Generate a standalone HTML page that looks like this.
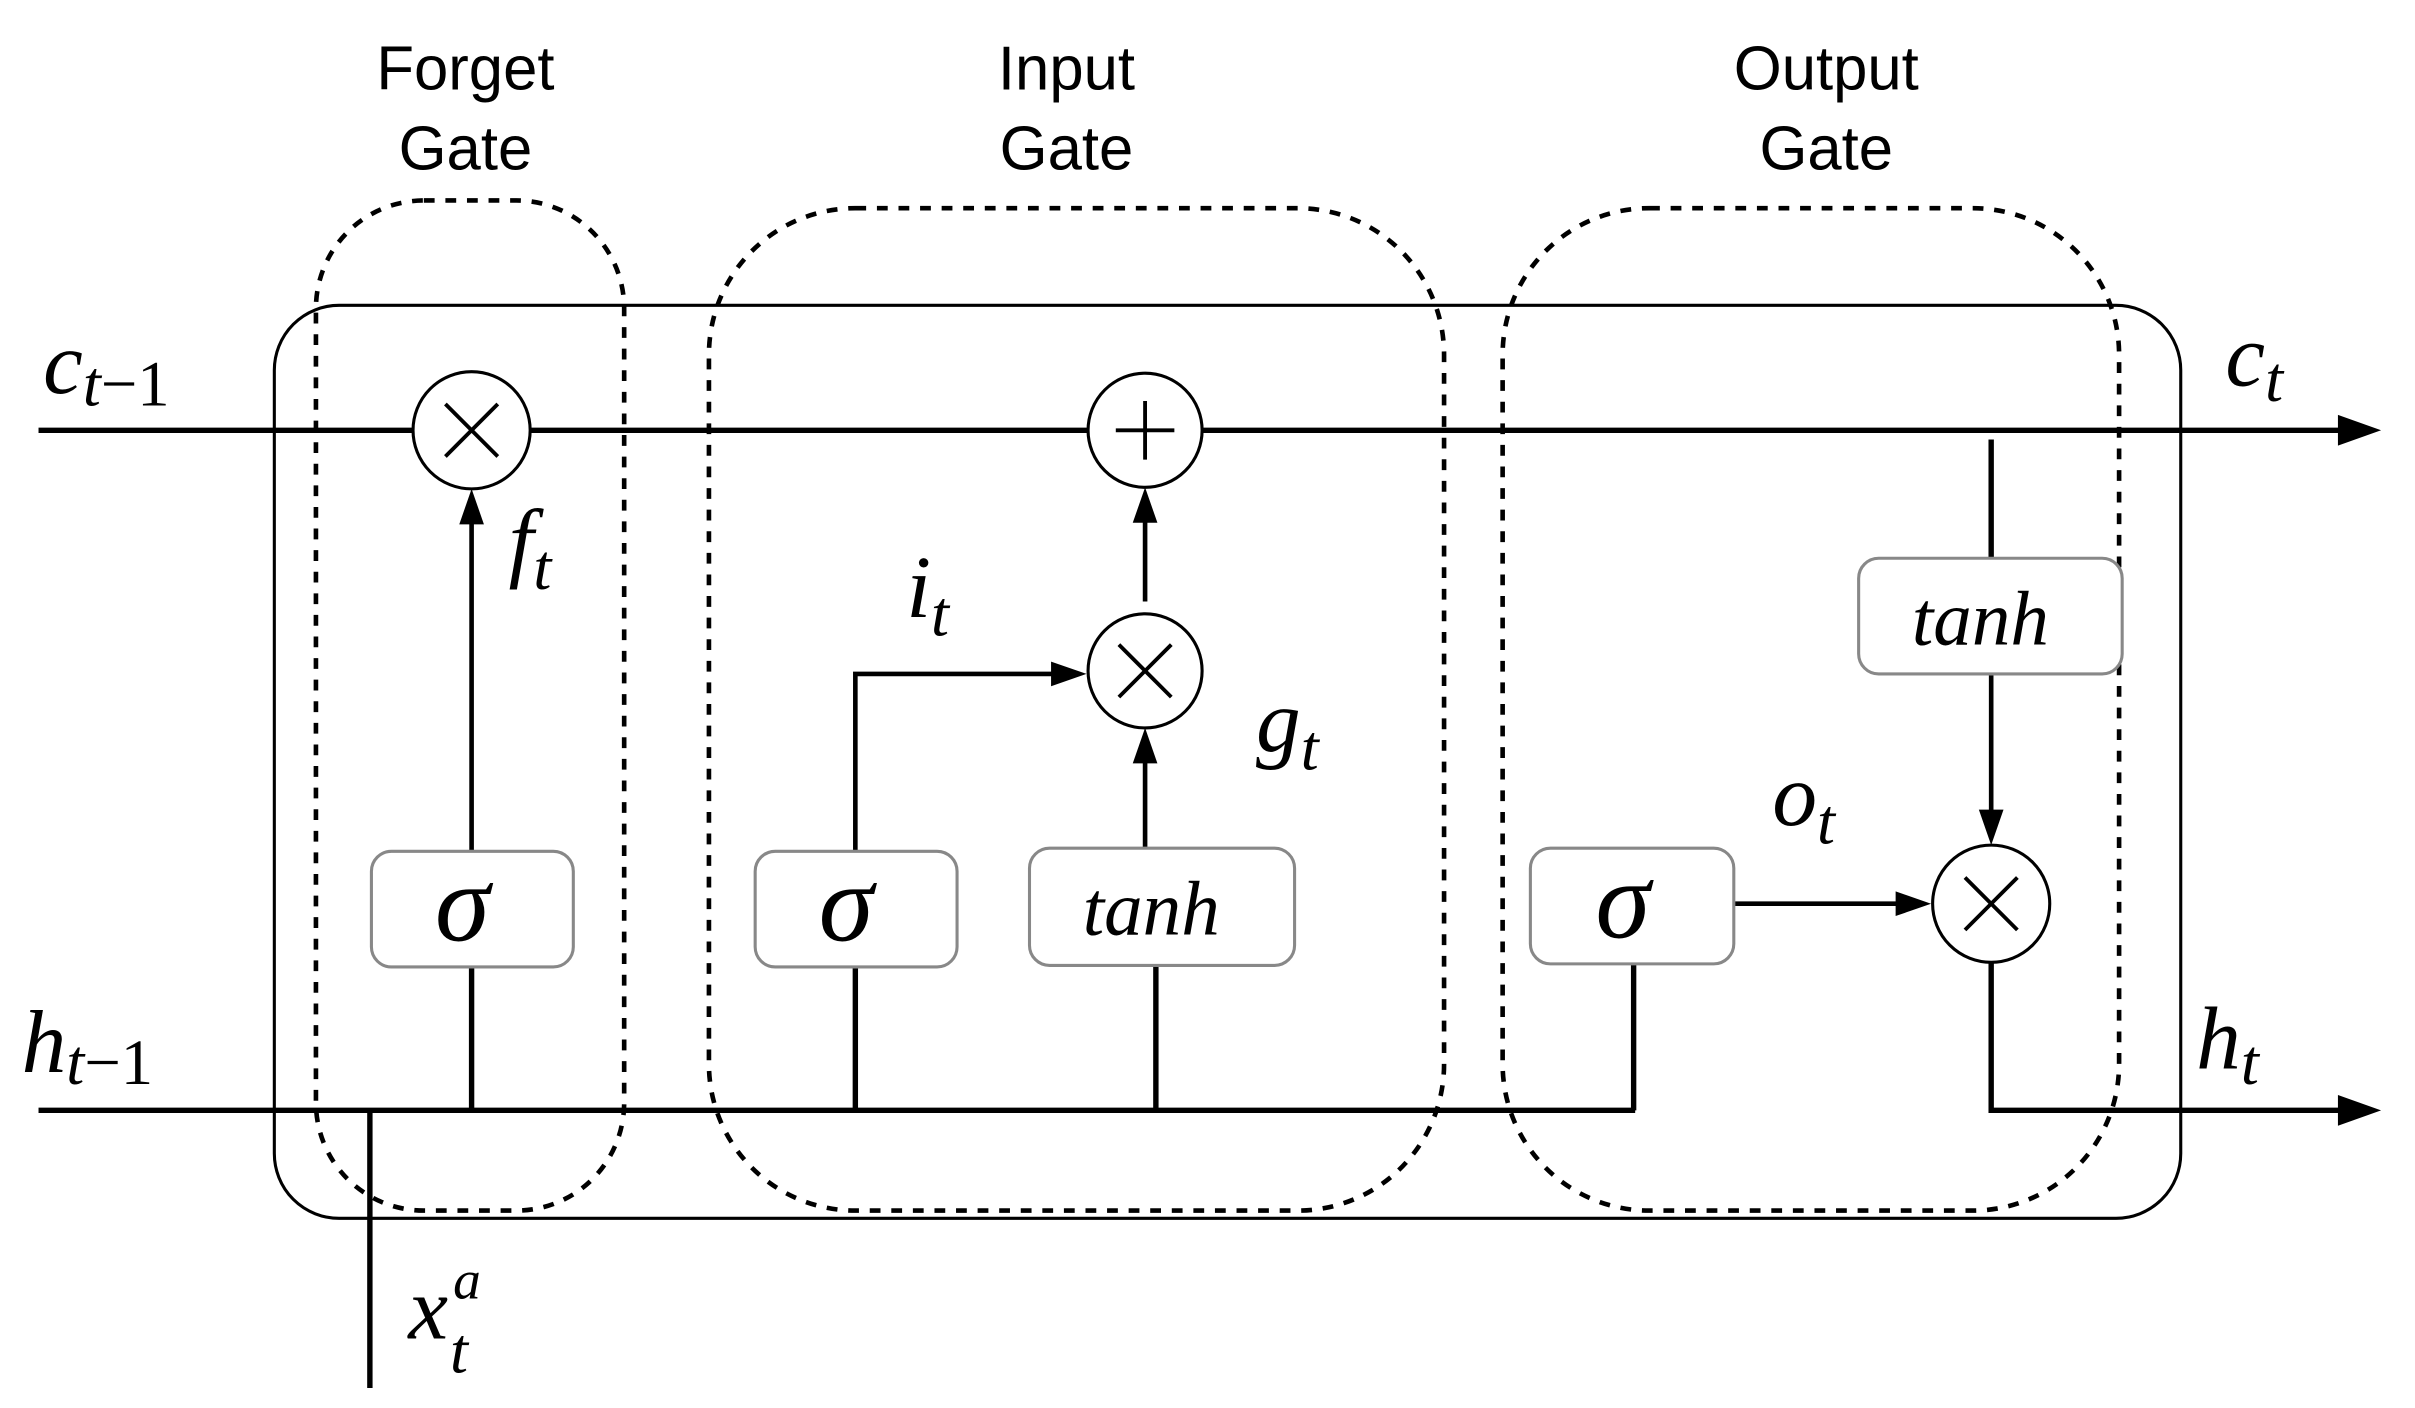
<!DOCTYPE html>
<html><head><style>html,body{margin:0;padding:0;background:#fff}svg{display:block}</style></head>
<body>
<svg width="2415" height="1408" viewBox="0 0 1567 913" preserveAspectRatio="none" xmlns="http://www.w3.org/2000/svg">
<g font-family="Liberation Sans, sans-serif" font-size="40" text-anchor="middle" fill="#000">
<text x="302" y="58">Forget</text><text x="302" y="110">Gate</text>
<text x="692" y="58">Input</text><text x="692" y="110">Gate</text>
<text x="1185" y="58">Output</text><text x="1185" y="110">Gate</text>
</g>
<rect x="178" y="198" width="1237" height="592" rx="42" fill="none" stroke="#000" stroke-width="2"/>
<g fill="none" stroke="#000" stroke-width="3" stroke-dasharray="7,7">
<rect x="205" y="130" width="200" height="655" rx="70"/>
<rect x="460" y="135" width="477" height="650" rx="95"/>
<rect x="975" y="135" width="400" height="650" rx="95"/>
</g>
<g stroke="#000" stroke-width="3.5" fill="none">
<line x1="25" y1="279" x2="268" y2="279"/>
<line x1="344" y1="279" x2="706" y2="279"/>
<line x1="780" y1="279" x2="1527" y2="279"/>
<line x1="25" y1="720" x2="1061" y2="720"/>
<polyline points="1292,624 1292,720 1527,720"/>
<line x1="240" y1="720" x2="240" y2="900"/>
<line x1="306" y1="720" x2="306" y2="627"/>
<line x1="555" y1="720" x2="555" y2="627"/>
<line x1="750" y1="720" x2="750" y2="626"/>
<line x1="1060" y1="720" x2="1060" y2="625"/>
<line x1="1292" y1="285" x2="1292" y2="362"/>
</g>
<g stroke="#000" stroke-width="3" fill="none">
<line x1="306" y1="552" x2="306" y2="335"/>
<polyline points="555,552 555,437 688,437"/>
<line x1="743" y1="550" x2="743" y2="490"/>
<line x1="743" y1="390" x2="743" y2="334"/>
<line x1="1125" y1="586" x2="1236" y2="586"/>
<line x1="1292" y1="437" x2="1292" y2="530"/>
</g>
<g fill="#000">
<path d="M1545,279 L1517,269 L1517,289 z"/>
<path d="M1545,720 L1517,710 L1517,730 z"/>
<path d="M306,317 L298,340 L314,340 z"/>
<path d="M705,437 L682,429 L682,445 z"/>
<path d="M743,472 L735,495 L751,495 z"/>
<path d="M743,316 L735,339 L751,339 z"/>
<path d="M1253,586 L1230,578 L1230,594 z"/>
<path d="M1292,548 L1284,525 L1300,525 z"/>
</g>
<g fill="#fff" stroke="#000" stroke-width="2">
<circle cx="306" cy="279" r="38"/>
<circle cx="743" cy="279" r="37"/>
<circle cx="743" cy="435" r="37"/>
<circle cx="1292" cy="586" r="38"/>
</g>
<g stroke="#000" stroke-width="2.5">
<line x1="289" y1="262" x2="323" y2="296"/><line x1="323" y1="262" x2="289" y2="296"/>
<line x1="726" y1="418" x2="760" y2="452"/><line x1="760" y1="418" x2="726" y2="452"/>
<line x1="1275" y1="569" x2="1309" y2="603"/><line x1="1309" y1="569" x2="1275" y2="603"/>
<line x1="743" y1="260" x2="743" y2="298"/><line x1="724" y1="279" x2="762" y2="279"/>
</g>
<g fill="#fff" stroke="#888" stroke-width="2">
<rect x="241" y="552" width="131" height="75" rx="13"/>
<rect x="490" y="552" width="131" height="75" rx="13"/>
<rect x="668" y="550" width="172" height="76" rx="13"/>
<rect x="993" y="550" width="132" height="75" rx="13"/>
<rect x="1206" y="362" width="171" height="75" rx="13"/>
</g>
<g font-family="Liberation Serif, serif" font-style="italic" fill="#000" text-anchor="middle">
<text x="300" y="610" font-size="72">σ</text>
<text x="549" y="610" font-size="72">σ</text>
<text x="1053" y="608" font-size="72">σ</text>
<text x="747" y="606" font-size="50">tanh</text>
<text x="1285" y="418" font-size="50">tanh</text>
</g>
<g font-family="Liberation Serif, serif" font-style="italic" fill="#000" font-size="58">
<text x="28" y="255">c<tspan font-size="42" dy="8">t</tspan><tspan font-size="42" font-style="normal">−1</tspan></text>
<text x="1444" y="250">c<tspan font-size="42" dy="10">t</tspan></text>
<text x="14" y="695">h<tspan font-size="42" dy="8">t</tspan><tspan font-size="42" font-style="normal">−1</tspan></text>
<text x="1425" y="693">h<tspan font-size="42" dy="10">t</tspan></text>
<text x="330" y="370">f<tspan font-size="42" dy="12">t</tspan></text>
<text x="588" y="400">i<tspan font-size="42" dy="12">t</tspan></text>
<text x="815" y="487">g<tspan font-size="42" dy="12">t</tspan></text>
<text x="1150" y="535">o<tspan font-size="42" dy="12">t</tspan></text>
<text x="265" y="868">x</text>
<text x="292" y="890" font-size="42">t</text>
<text x="294" y="842" font-size="36">a</text>
</g>
</svg>
</body></html>
